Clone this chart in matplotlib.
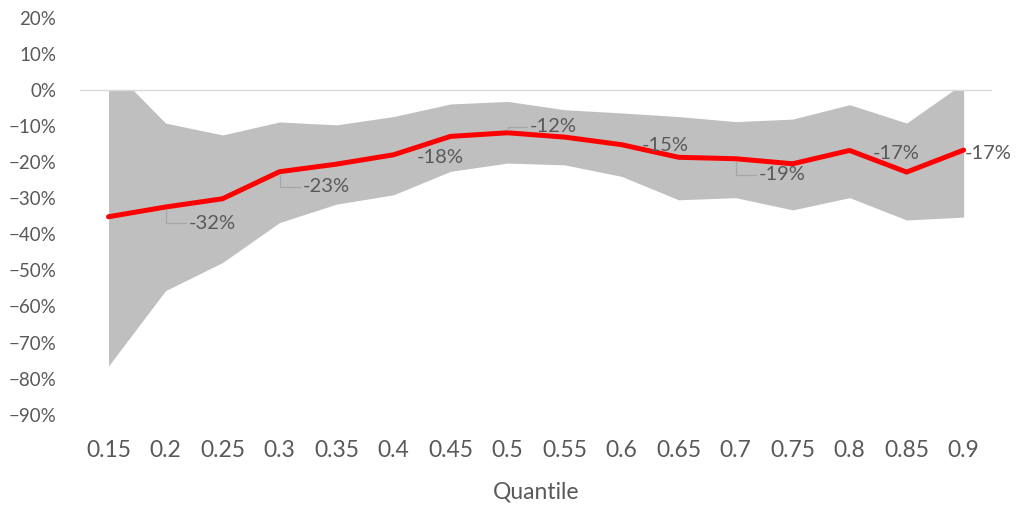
import matplotlib
matplotlib.use("Agg")
import matplotlib.pyplot as plt
from matplotlib.patches import Rectangle
from matplotlib.ticker import PercentFormatter, MultipleLocator

plt.rcParams["font.family"] = ["Lato", "DejaVu Sans"]

quantiles = ["0.15", "0.2", "0.25", "0.3", "0.35", "0.4", "0.45", "0.5",
             "0.55", "0.6", "0.65", "0.7", "0.75", "0.8", "0.85", "0.9"]
estimate = [-35.1, -32.4, -30.1, -22.6, -20.5, -17.9, -12.8, -11.8,
            -13.0, -15.1, -18.6, -19.0, -20.4, -16.7, -22.7, -16.6]
upper = [7.0, -9.1, -12.4, -8.8, -9.6, -7.3, -3.8, -3.1,
         -5.4, -6.3, -7.3, -8.7, -8.0, -4.0, -9.1, 2.0]
lower = [-76.5, -55.6, -47.8, -36.7, -31.6, -29.0, -22.5, -20.2,
         -20.7, -23.9, -30.4, -29.8, -33.2, -29.8, -36.0, -35.2]

# (index, pixel offset of label, draw leader line)
labels = [
    (1, (47, -16), True),
    (3, (47, -15), True),
    (5, (47, -3), False),
    (7, (46, 6), True),
    (9, (44, -1), False),
    (11, (47, -16), True),
    (13, (47, -3), False),
    (15, (25, -3), False),
]

TEXT = "#595959"

fig = plt.figure(figsize=(10.18, 5.05), dpi=100)
ax = fig.add_axes([0.0786, 0.179, 0.896, 0.785])

x = list(range(len(quantiles)))
band = ax.fill_between(x, lower, upper, color="#bfbfbf", linewidth=0, zorder=1)
# the area series only fills below the category axis
band.set_clip_path(Rectangle((-1, -100), len(x) + 2, 100, transform=ax.transData))

ax.axhline(0, color="#d9d9d9", linewidth=1, zorder=2)
ax.plot(x, estimate, color="#ff0000", linewidth=3.6, solid_capstyle="round",
        solid_joinstyle="round", zorder=3)

for i, offset, leader in labels:
    arrow = None
    if leader:
        arrow = dict(arrowstyle="-", color="#a6a6a6", linewidth=0.9,
                     shrinkA=0, shrinkB=2,
                     connectionstyle="angle,angleA=0,angleB=90,rad=0")
    ax.annotate(f"{round(estimate[i]):d}%", xy=(i, estimate[i]),
                xytext=offset, textcoords="offset pixels",
                ha="center", va="center", fontsize=14.5, color=TEXT,
                arrowprops=arrow, zorder=4)

ax.set_xlim(-0.5, len(x) - 0.5)
ax.set_ylim(-90, 20)
ax.set_xticks(x)
ax.set_xticklabels(quantiles)
ax.yaxis.set_major_locator(MultipleLocator(10))
ax.yaxis.set_major_formatter(PercentFormatter(decimals=0))
ax.tick_params(length=0, labelcolor=TEXT)
ax.tick_params(axis="x", pad=18, labelsize=16.5)
ax.tick_params(axis="y", pad=17, labelsize=13.5)
for spine in ax.spines.values():
    spine.set_visible(False)
ax.set_xlabel("Quantile", fontsize=16.5, color=TEXT, labelpad=15)

fig.savefig("out.png", dpi=100)
